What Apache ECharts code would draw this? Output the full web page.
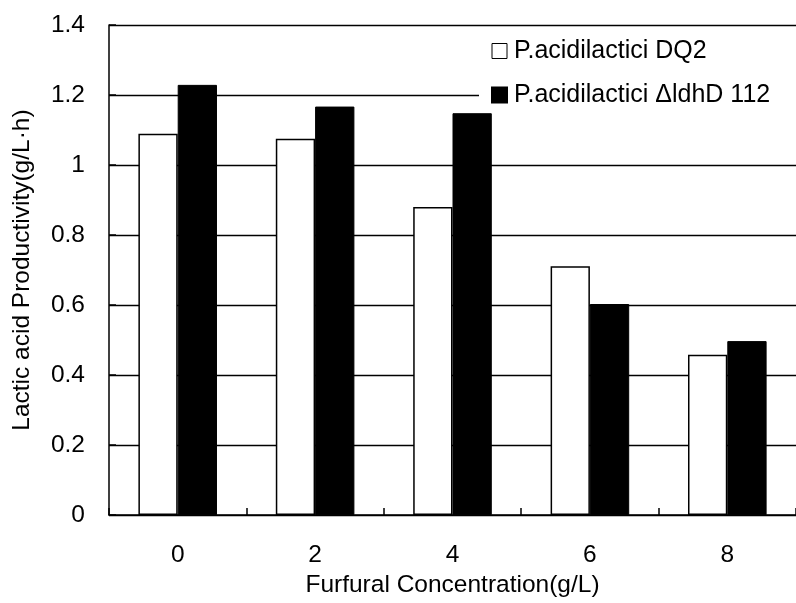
<!DOCTYPE html>
<html>
<head>
<meta charset="utf-8">
<script src="https://cdn.jsdelivr.net/npm/echarts@6/dist/echarts.min.js"></script>
<style>
  html, body { margin: 0; padding: 0; background: #fff; }
  #chart { width: 796px; height: 603px; }
</style>
</head>
<body>
<div id="chart"></div>
<script>
// Furfural concentration levels (g/L)
const categories = ['0', '2', '4', '6', '8'];
// Lactic acid productivity (g/L·h) for each strain
const wildType = [1.089, 1.075, 0.880, 0.711, 0.458];
const mutant = [1.229, 1.167, 1.148, 0.603, 0.497];
const seriesNames = ['P.acidilactici DQ2', 'P.acidilactici ΔldhD 112'];
const yTicks = { min: 0, max: 1.4, interval: 0.2 };

const font = '"Liberation Sans", Arial, sans-serif';
const chart = echarts.init(document.getElementById('chart'), null, { renderer: 'canvas' });

chart.setOption({
  animation: false,
  backgroundColor: '#fff',
  textStyle: { fontFamily: font, color: '#000' },
  grid: { left: 109, top: 25, width: 690, height: 493, containLabel: false },
  legend: {
    orient: 'vertical',
    left: 479,
    top: 32,
    padding: [6, 30, 1, 12],
    backgroundColor: '#fff',
    itemWidth: 15,
    itemHeight: 15,
    itemGap: 18,
    icon: 'rect',
    textStyle: { fontFamily: font, fontSize: 25, lineHeight: 26, color: '#000', padding: [0, 0, 0, 2] },
    data: [
      { name: seriesNames[0], itemStyle: { color: '#fff', borderColor: '#000', borderWidth: 1 } },
      { name: seriesNames[1], itemStyle: { color: '#000' } }
    ]
  },
  xAxis: {
    type: 'category',
    data: categories,
    boundaryGap: true,
    name: 'Furfural Concentration(g/L)',
    nameLocation: 'middle',
    nameGap: 54,
    nameTextStyle: { fontFamily: font, fontSize: 24.5, color: '#000' },
    axisLine: { lineStyle: { color: '#000', width: 1.5 } },
    axisTick: { show: true, inside: true, length: 7, alignWithLabel: false, lineStyle: { color: '#000', width: 1.5 } },
    axisLabel: { fontFamily: font, fontSize: 24.5, color: '#000', margin: 28 },
    splitLine: { show: false }
  },
  yAxis: {
    type: 'value',
    min: yTicks.min,
    max: yTicks.max,
    interval: yTicks.interval,
    name: 'Lactic acid Productivity(g/L·h)',
    nameLocation: 'middle',
    nameGap: 74,
    nameTextStyle: { fontFamily: font, fontSize: 24.5, color: '#000' },
    axisLine: { show: true, lineStyle: { color: '#000', width: 1.5 } },
    axisTick: { show: true, inside: true, length: 7, lineStyle: { color: '#000', width: 1.5 } },
    axisLabel: {
      fontFamily: font, fontSize: 24.5, color: '#000', margin: 24,
      formatter: v => String(Math.round(v * 10) / 10)
    },
    splitLine: { show: true, lineStyle: { color: '#000', width: 1.3 } }
  },
  series: [
    {
      name: seriesNames[0],
      type: 'bar',
      data: wildType,
      barWidth: '28.6%',
      barGap: '0%',
      itemStyle: { color: '#fff', borderColor: '#000', borderWidth: 1.5 }
    },
    {
      name: seriesNames[1],
      type: 'bar',
      data: mutant,
      barWidth: '28.6%',
      barGap: '0%',
      itemStyle: { color: '#000', borderColor: '#000', borderWidth: 1 }
    }
  ]
});
</script>
</body>
</html>
